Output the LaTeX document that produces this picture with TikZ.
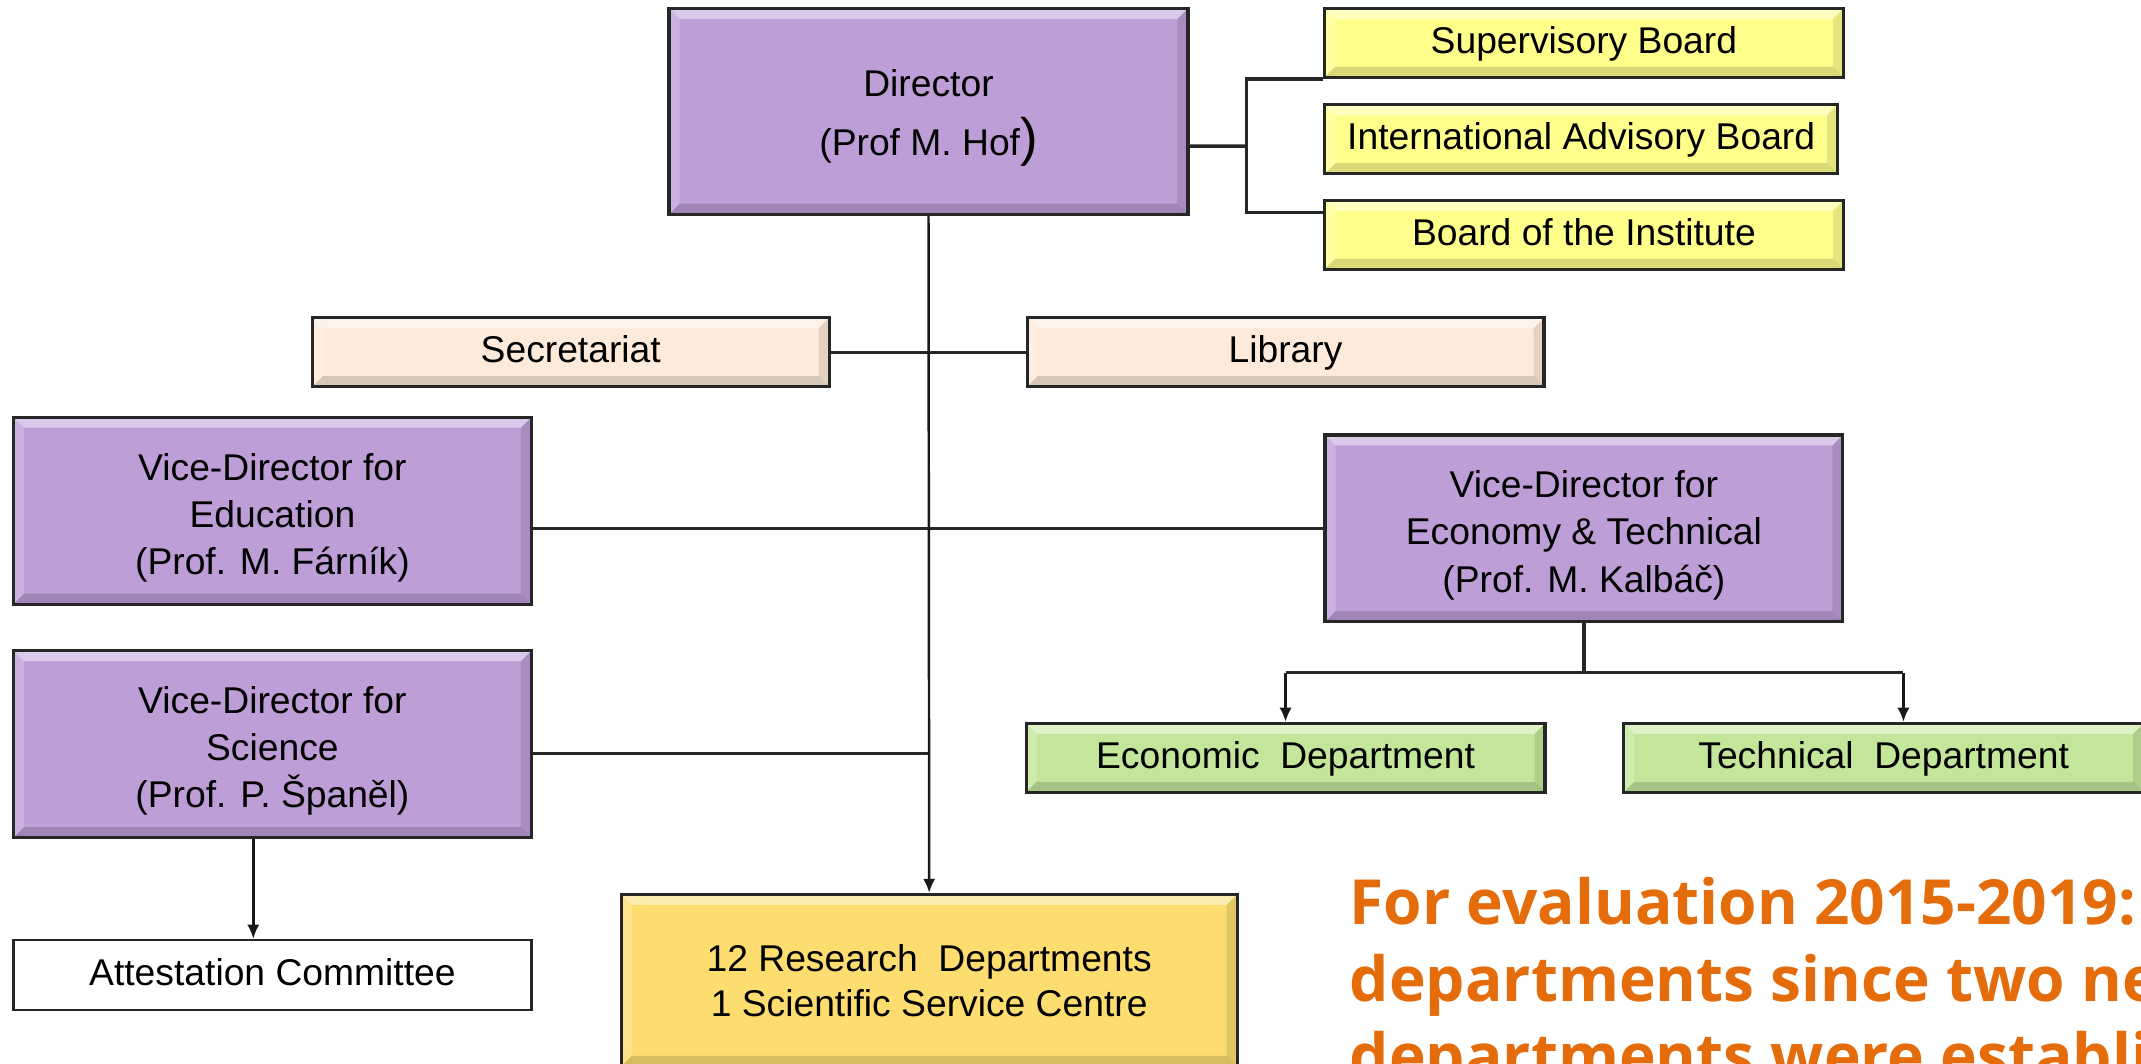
\documentclass[tikz,border=0pt]{standalone}
\usepackage{fontspec}
\setmainfont{Liberation Sans}
\newfontfamily\notefont{Open Sans}
\usetikzlibrary{arrows.meta,calc}

% invisible strut that pushes a text block down a little
\newcommand{\lift}{\rule{0pt}{11.6pt}}

\tikzset{
  bevel/.style={path picture={
      \fill[white,opacity=0.45] (path picture bounding box.north west) -- (path picture bounding box.north east)
        -- ([shift={(-3pt,-3pt)}]path picture bounding box.north east) -- ([shift={(3pt,-3pt)}]path picture bounding box.north west) -- cycle;
      \fill[white,opacity=0.2] (path picture bounding box.north west) -- (path picture bounding box.south west)
        -- ([shift={(3pt,3pt)}]path picture bounding box.south west) -- ([shift={(3pt,-3pt)}]path picture bounding box.north west) -- cycle;
      \fill[black,opacity=0.15] (path picture bounding box.south west) -- (path picture bounding box.south east)
        -- ([shift={(-3pt,3pt)}]path picture bounding box.south east) -- ([shift={(3pt,3pt)}]path picture bounding box.south west) -- cycle;
      \fill[black,opacity=0.1] (path picture bounding box.north east) -- (path picture bounding box.south east)
        -- ([shift={(-3pt,3pt)}]path picture bounding box.south east) -- ([shift={(-3pt,-3pt)}]path picture bounding box.north east) -- cycle;
    }},
  orgbox/.style={draw=black!85, line width=0.9pt, inner sep=0pt, align=center,
    font=\fontsize{10.6}{13.4}\selectfont},
  oneline/.style={text height=0.8em, text depth=0.2em},
  dirbox/.style={orgbox, bevel, fill=vdpurple, minimum width=5.19cm, minimum height=2.06cm},
  vdbox/.style={orgbox, bevel, fill=vdpurple, minimum width=5.18cm, minimum height=1.87cm},
  boardbox/.style={orgbox, oneline, bevel, fill=boardyellow, minimum width=5.19cm, minimum height=0.69cm},
  sidebox/.style={orgbox, oneline, bevel, fill=sidepeach, minimum width=5.17cm, minimum height=0.69cm},
  deptbox/.style={orgbox, oneline, bevel, fill=deptgreen, minimum width=5.19cm, minimum height=0.69cm},
  resbox/.style={orgbox, bevel, fill=resgold, minimum width=6.16cm, minimum height=1.72cm,
    font=\fontsize{10.6}{12.8}\selectfont},
  plainbox/.style={orgbox, oneline, line width=0.7pt, fill=white, minimum width=5.18cm, minimum height=0.7cm},
  notetext/.style={anchor=base west, inner sep=0pt, text=noteorange,
    font=\notefont\bfseries\fontsize{17.7}{22}\selectfont},
  conn/.style={draw=black!85, line width=1pt},
  arr/.style={draw=black!90, line width=0.7pt, -{Latex[length=4pt,width=3.5pt]}},
}

\begin{document}
\begin{tikzpicture}[x=0.013655cm, y=-0.013655cm]
  % Define colors
  \definecolor{vdpurple}{RGB}{189,158,215}   % Director boxes
  \definecolor{boardyellow}{RGB}{255,255,140} % Boards
  \definecolor{sidepeach}{RGB}{253,234,218}   % Secretariat, Library
  \definecolor{deptgreen}{RGB}{196,230,154}   % Departments
  \definecolor{resgold}{RGB}{253,221,112}     % Research departments
  \definecolor{noteorange}{RGB}{228,108,10}   % Note text

  % Slide frame
  \useasboundingbox (0,0) rectangle (1568,779);
  \clip (0,0) rectangle (1568,779);

  % Director and boards
  \node[dirbox] (director) at (680,81.5) {\lift Director\\[3.3pt](Prof M. Hof{\fontsize{15}{15}\selectfont)}};
  \node[boardbox] (superv) at (1160,31.5) {Supervisory Board};
  \node[boardbox, minimum width=5.13cm] (intl) at (1158,102) {International Advisory Board};
  \node[boardbox] (board) at (1160,172) {Board of the Institute};

  % Secretariat and library
  \node[sidebox] (secret) at (418,258) {Secretariat};
  \node[sidebox] (library) at (941.5,258) {Library};

  % Vice-directors
  \node[vdbox] (vdedu) at (199.5,374) {\lift Vice-Director for\\Education\\ (Prof. M. Fárník)};
  \node[vdbox] (vdeco) at (1160,387) {\lift Vice-Director for\\Economy \& Technical\\(Prof. M. Kalbáč)};
  \node[vdbox] (vdsci) at (199.5,545) {\lift Vice-Director for\\Science\\ (Prof. P. Španěl)};

  % Departments and committee
  \node[deptbox] (econ) at (941.5,555) {Economic~ Department};
  \node[deptbox, minimum width=5.2cm] (tech) at (1379.5,555) {Technical~ Department};
  \node[plainbox] (attest) at (199.5,714) {Attestation Committee};
  \node[resbox] (research) at (680.5,718) {12 Research~ Departments\\ 1 Scientific Service Centre};

  % Connectors
  \coordinate (jn) at (913,107);
  \draw[conn] ([yshift=-9.9pt]director.east) -- (jn);
  \draw[conn] (superv.south west) -| (jn) |- ([yshift=-3.9pt]board.north west);
  \draw[conn] (secret.east) -- (library.west);
  \draw[conn] (vdedu.east |- vdeco.west) -- (vdeco.west);
  \draw[conn] ([yshift=-2.7pt]vdsci.east) -- ([yshift=-2.7pt]vdsci.east -| director.south);
  \draw[arr] (director.south) -- (research.north);

  \coordinate (split) at ($(vdeco.south)+(0,36)$);
  \coordinate (techin) at ($(tech.north)+(14.5,0)$);
  \draw[conn] (vdeco.south) -- (split);
  \draw[conn] (econ.north |- split) -- (techin |- split);
  \draw[arr] (econ.north |- split) -- (econ.north);
  \draw[arr] (techin |- split) -- (techin);

  \coordinate (attin) at ($(attest.north)+(-14,0)$);
  \draw[arr] (vdsci.south -| attin) -- (attin);

  % Evaluation note
  \node[notetext] (note1) at (988,677) {For evaluation 2015-2019:};
  \node[notetext] (note2) at (988,733.5) {departments since two new};
  \node[notetext] (note3) at (988,790) {departments were established};
\end{tikzpicture}
\end{document}
